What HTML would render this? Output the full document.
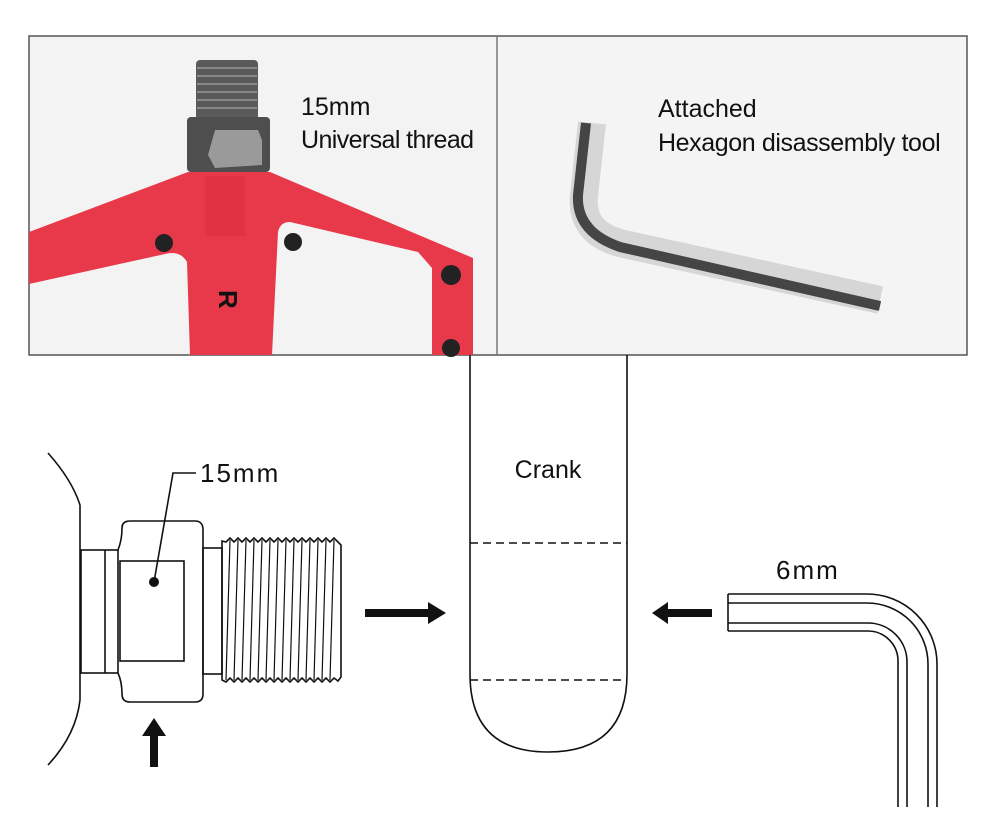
<!DOCTYPE html>
<html><head><meta charset="utf-8"><style>
html,body{margin:0;padding:0;background:#fff;}
svg{display:block}
</style></head><body>
<svg width="1000" height="827" viewBox="0 0 1000 827" xmlns="http://www.w3.org/2000/svg">
<rect width="1000" height="827" fill="#fff"/>
<rect x="29" y="36" width="468" height="319" fill="#f3f3f3"/>
<rect x="497" y="36" width="470" height="319" fill="#f4f4f4"/>
<rect x="29" y="36" width="938" height="319" fill="none" stroke="#555" stroke-width="1.5"/>
<line x1="497" y1="36" x2="497" y2="355" stroke="#777" stroke-width="1.5"/>
<g>
<path d="M29 232 L188 172 L270 172 L473 258 L473 355 L432 355 L432 268 L418 252 L290 222 Q280 222 278 232 L272 355 L190 355 L187 262 Q180 250 165 254 L29 284 Z" fill="#e8394a"/>
<rect x="205" y="176" width="40" height="60" fill="#d8303f" opacity="0.6"/>
<rect x="196" y="60" width="62" height="60" rx="4" fill="#5a5a5a"/>
<g stroke="#888" stroke-width="2">
<line x1="197" y1="68" x2="257" y2="68"/><line x1="197" y1="76" x2="257" y2="76"/><line x1="197" y1="84" x2="257" y2="84"/><line x1="197" y1="92" x2="257" y2="92"/><line x1="197" y1="100" x2="257" y2="100"/><line x1="197" y1="108" x2="257" y2="108"/>
</g>
<rect x="187" y="117" width="83" height="55" rx="4" fill="#4e4e4e"/>
<polygon points="215,130 258,130 262,140 262,165 215,168 208,155" fill="#9a9a9a"/>
<circle cx="164" cy="243" r="9" fill="#222"/><circle cx="293" cy="242" r="9" fill="#222"/>
<circle cx="451" cy="275" r="10" fill="#222"/><circle cx="451" cy="348" r="9" fill="#222"/>
<text x="215" y="312" font-family="Liberation Sans, sans-serif" font-weight="bold" font-size="26" fill="#111" transform="rotate(90 228 303)">R</text>
</g>
<text x="301" y="115" font-family="Liberation Sans, sans-serif" font-size="25" fill="#111">15mm</text>
<text x="301" y="148" font-family="Liberation Sans, sans-serif" font-size="25" fill="#111" letter-spacing="-0.6">Universal thread</text>
<path d="M592 123 L584 195 Q580 234 624 244 L880 300" fill="none" stroke="#d6d6d6" stroke-width="28"/>
<path d="M586 123 L578 195 Q576 232 620 247 L880 306" fill="none" stroke="#454545" stroke-width="10"/>
<text x="658" y="117" font-family="Liberation Sans, sans-serif" font-size="25" fill="#111">Attached</text>
<text x="658" y="151" font-family="Liberation Sans, sans-serif" font-size="25" fill="#111" letter-spacing="-0.4">Hexagon disassembly tool</text>
<g fill="none" stroke="#111" stroke-width="1.6">
<path d="M48 453 Q72 480 80 505 L80 700 Q76 735 48 765"/>
<rect x="81" y="550" width="37" height="123"/>
<line x1="105" y1="550" x2="105" y2="673"/>
<path d="M118 550 Q122 540 122 528 Q122 521 130 521 L195 521 Q203 521 203 530 L203 694 Q203 702 195 702 L130 702 Q122 702 122 694 Q122 682 118 673"/>
<rect x="120" y="561" width="64" height="100"/>
<rect x="203" y="548" width="19" height="126"/>
<path d="M222 541 L226 542 L230 538 L234 542 L238 538 L242 542 L246 538 L250 542 L254 538 L258 542 L262 538 L266 542 L270 538 L274 542 L278 538 L282 542 L286 538 L290 542 L294 538 L298 542 L302 538 L306 542 L310 538 L314 542 L318 538 L322 542 L326 538 L330 542 L334 538 L338 542 L341 545 L341 677 L338 681 L334 678 L330 682 L326 678 L322 682 L318 678 L314 682 L310 678 L306 682 L302 678 L298 682 L294 678 L290 682 L286 678 L282 682 L278 678 L274 682 L270 678 L266 682 L262 678 L258 682 L254 678 L250 682 L246 678 L242 682 L238 678 L234 682 L230 678 L226 682 L222 680 Z"/>
<g stroke-width="1.2">
<line x1="230" y1="540" x2="226" y2="680"/><line x1="238" y1="540" x2="234" y2="680"/><line x1="246" y1="540" x2="242" y2="680"/><line x1="254" y1="540" x2="250" y2="680"/><line x1="262" y1="540" x2="258" y2="680"/><line x1="270" y1="540" x2="266" y2="680"/><line x1="278" y1="540" x2="274" y2="680"/><line x1="286" y1="540" x2="282" y2="680"/><line x1="294" y1="540" x2="290" y2="680"/><line x1="302" y1="540" x2="298" y2="680"/><line x1="310" y1="540" x2="306" y2="680"/><line x1="318" y1="540" x2="314" y2="680"/><line x1="326" y1="540" x2="322" y2="680"/><line x1="334" y1="540" x2="330" y2="680"/>
</g>
<polyline points="154,582 173,473 196,473"/>
</g>
<circle cx="154" cy="582" r="5" fill="#111"/>
<text x="200" y="482" font-family="Liberation Sans, sans-serif" font-size="26" fill="#111" letter-spacing="2">15mm</text>
<polygon points="154,718 166,736 158,736 158,767 150,767 150,736 142,736" fill="#111"/>
<path d="M470 355 L470 674 Q470 752 548 752 Q627 752 627 674 L627 355" fill="none" stroke="#111" stroke-width="1.6"/>
<g stroke="#111" stroke-width="1.4" stroke-dasharray="8,5">
<line x1="470" y1="543" x2="627" y2="543"/><line x1="470" y1="680" x2="627" y2="680"/>
</g>
<text x="548" y="478" text-anchor="middle" font-family="Liberation Sans, sans-serif" font-size="25" fill="#111">Crank</text>
<polygon points="446,613 428,602 428,609 365,609 365,617 428,617 428,624" fill="#111"/>
<polygon points="652,613 668,602 668,609 712,609 712,617 668,617 668,624" fill="#111"/>
<g fill="none" stroke="#111" stroke-width="1.6">
<line x1="728" y1="594" x2="728" y2="631"/>
<path d="M728 594 H867 A70 70 0 0 1 937 664 V807"/>
<path d="M728 603 H867 A61 61 0 0 1 928 664 V807"/>
<path d="M728 623 H868 A39 39 0 0 1 907 662 V807"/>
<path d="M728 631 H868 A30 30 0 0 1 898 661 V807"/>
</g>
<text x="776" y="579" font-family="Liberation Sans, sans-serif" font-size="26" fill="#111" letter-spacing="2">6mm</text>
</svg>
</body></html>
